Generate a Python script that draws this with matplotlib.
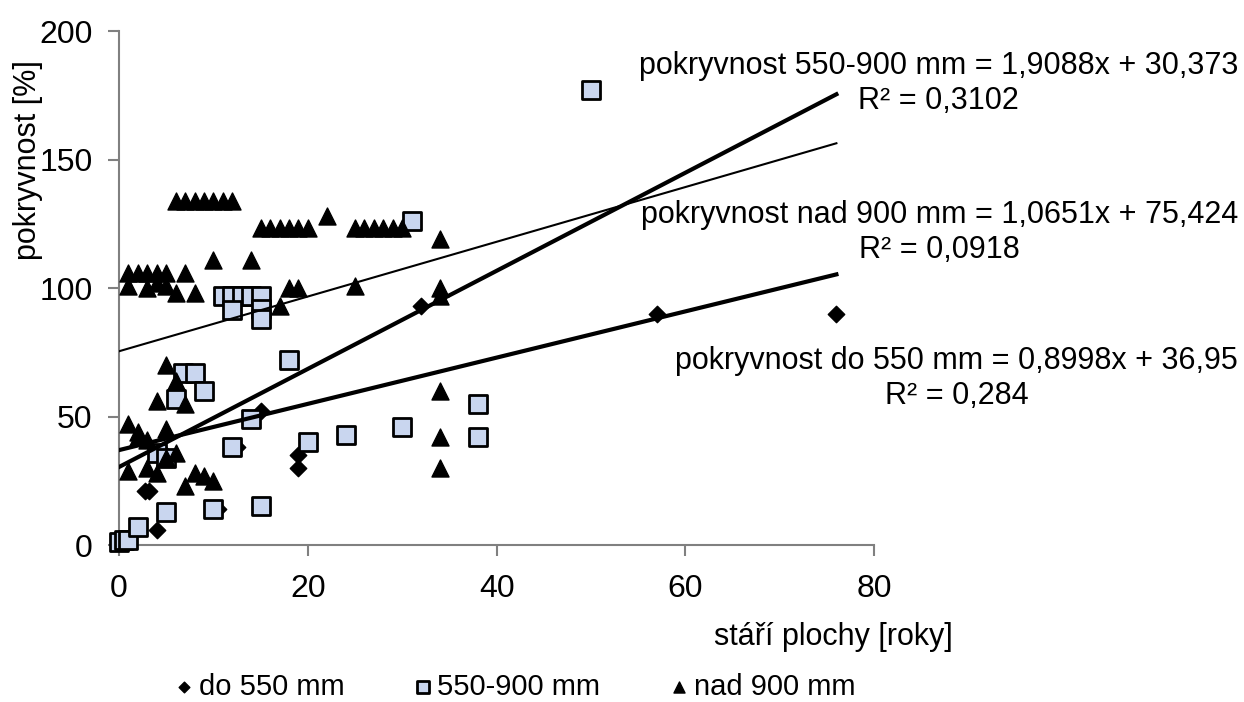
import numpy as np
import matplotlib.pyplot as plt

plt.rcParams['font.family'] = ['Liberation Sans', 'DejaVu Sans']

# do 550 mm (kosočtverce)
do550_x = [2.8, 3.2, 4, 5, 10.5, 12.5, 15, 19, 19, 32, 57, 76]
do550_y = [21, 21, 6, 35, 14, 38, 52, 35, 30, 93, 90, 90]

# 550-900 mm (čtverce)
stred_x = [0, 0.5, 1, 2, 4, 5, 5, 6, 6.8, 8, 9, 10, 11, 12, 13, 14, 15,
           12, 15, 15, 12, 14, 15, 18, 20, 24, 30, 31, 38, 38, 50]
stred_y = [1, 2, 2, 7, 36, 34, 13, 57, 67, 67, 60, 14, 97, 97, 97, 97, 97,
           91.5, 92, 88, 38, 49, 15, 72, 40, 43, 46, 126, 55, 42, 177]

# nad 900 mm (trojúhelníky)
nad900_x = [6, 7, 8, 9, 10, 11, 12,
            15, 16, 17, 18, 19, 20, 22, 25, 26, 27, 28, 29, 30,
            1, 2, 3, 4, 5, 7, 1, 3, 4, 5, 6, 8,
            10, 14, 17, 18, 19, 25, 34, 34, 34, 34, 34, 34,
            5, 6, 4, 7, 1, 2, 3, 5, 6, 5, 1, 3, 4, 8, 9, 10, 7, 2]
nad900_y = [134, 134, 134, 134, 134, 134, 134,
            123.5, 123.5, 123.5, 123.5, 123.5, 123.5, 128, 123.5, 123.5, 123.5, 123.5, 123.5, 123.5,
            106, 106, 106, 106, 106, 106, 101, 100, 102, 101, 98, 98,
            111, 111, 93, 100, 100, 101, 119, 100, 97, 60, 42, 30,
            70, 64, 56, 55, 47, 44, 41, 45, 36, 34, 29, 30, 28, 28, 27, 25, 23, 42]

# trendy (sklon, úsek, R2)
trend_names = ['550-900 mm', 'nad 900 mm', 'do 550 mm']
trend_k = [1.9088, 1.0651, 0.8998]
trend_q = [30.373, 75.424, 36.95]
trend_r2 = ['0,3102', '0,0918', '0,284']
trend_q_txt = ['30,373', '75,424', '36,95']
trend_k_txt = ['1,9088', '1,0651', '0,8998']
trend_lw = [3, 1.5, 3]

fig = plt.figure(figsize=(12.44, 7.02), dpi=100)
ax = fig.add_axes([0.0957, 0.2236, 0.607, 0.732])

ax.scatter(do550_x, do550_y, marker='D', s=70, c='black', zorder=3,
           label='do 550 mm', clip_on=False)
ax.scatter(stred_x, stred_y, marker='s', s=150, c='#c9d6ef',
           edgecolors='black', linewidths=2, zorder=3, label='550-900 mm',
           clip_on=False)
ax.scatter(nad900_x, nad900_y, marker='^', s=150, c='black', zorder=3,
           label='nad 900 mm', clip_on=False)

xx = np.array([0, 76])
for k, q, lw in zip(trend_k, trend_q, trend_lw):
    ax.plot(xx, k * xx + q, color='black', lw=lw, zorder=4)

ax.set_xlim(0, 80)
ax.set_ylim(0, 200)
ax.set_xticks([0, 20, 40, 60, 80])
ax.set_yticks([0, 50, 100, 150, 200])
for s in ['top', 'right']:
    ax.spines[s].set_visible(False)
for s in ['left', 'bottom']:
    ax.spines[s].set_color('#808080')
    ax.spines[s].set_linewidth(1.5)
ax.tick_params(direction='out', length=8, width=1.5, color='#808080',
               labelsize=23)
ax.tick_params(axis='y', pad=11)
ax.tick_params(axis='x', pad=13)

# popisky trendů
text_y = [68, 217, 363]
text_x = [1238, 1238, 1238]
for name, k, q, r2, ty, tx in zip(trend_names, trend_k_txt, trend_q_txt,
                                  trend_r2, text_y, text_x):
    fig.text(tx / 1244, 1 - (ty - 17) / 702,
             'pokryvnost %s = %sx + %s\nR² = %s' % (name, k, q, r2),
             ha='right', va='top', multialignment='center', fontsize=22,
             linespacing=1.2)

fig.text(28 / 1244, 1 - 160 / 702, 'pokryvnost [%]', rotation=90,
         ha='center', va='center', fontsize=22)
fig.text(833 / 1244, 1 - 637 / 702, 'stáří plochy [roky]',
         ha='center', va='center', fontsize=22)

leg = fig.legend(loc='center', bbox_to_anchor=(0.413, 1 - 687 / 702), ncol=3,
                 frameon=False, fontsize=21, markerscale=0.65,
                 handletextpad=0.1, columnspacing=2.3, handlelength=0.8,
                 borderpad=0.1)

plt.savefig('out.png', dpi=100)
